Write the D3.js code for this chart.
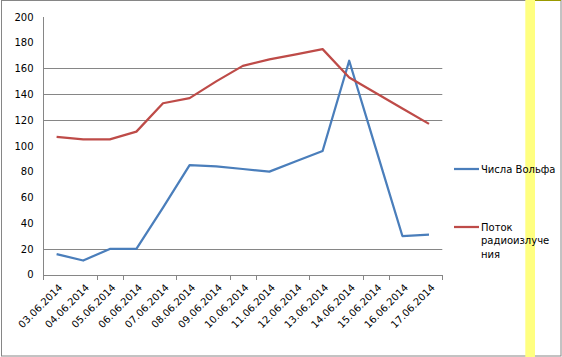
<!DOCTYPE html>
<html><head><meta charset="utf-8">
<script src="https://cdn.jsdelivr.net/npm/d3@7"></script>
<style>html,body{margin:0;padding:0;background:#fff;}svg{display:block;}</style>
</head><body>
<svg id="c" width="562" height="357"></svg>
<script>
const categories = ["03.06.2014","04.06.2014","05.06.2014","06.06.2014","07.06.2014","08.06.2014","09.06.2014","10.06.2014","11.06.2014","12.06.2014","13.06.2014","14.06.2014","15.06.2014","16.06.2014","17.06.2014"];
const wolfNumbers = [16, 11, 20, 20, 52, 85, 84, 82, 80, 88, 96, 166, 98, 30, 31];
const radioFlux = [107, 105, 105, 111, 133, 137, 150, 162, 167, 171, 175, 153, 141, 129, 117];
const seriesNames = ["Числа Вольфа", "Поток радиоизлучения"];
const seriesColors = ["#4a7ebb", "#be4b48"];
const yTicks = [0, 20, 40, 60, 80, 100, 120, 140, 160, 180, 200];
const gridValues = [20, 120, 140, 160];
const xTickIdx = [0, 2, 3, 5, 7, 8, 10, 12, 13, 15];

(function () {
const svg = d3.select("#c");
const font = "DejaVu Sans, Verdana, sans-serif";
const axisColor = "#868686";

const pLeft = 43.3, pRight = 442.3, pTop = 16.9, pBottom = 274.7;
const x = d3.scaleBand().domain(categories).range([pLeft, pRight]).paddingInner(0).paddingOuter(0);
const y = d3.scaleLinear().domain([0, 200]).range([pBottom, pTop]);

svg.append("rect").attr("x", 1.5).attr("y", 0.5).attr("width", 559.5).attr("height", 355.5)
  .attr("fill", "#fff").attr("stroke", axisColor).attr("stroke-width", 1);

// yellow highlight bar (behind text)
svg.append("rect").attr("x", 525.3).attr("y", 0).attr("width", 9.7).attr("height", 357).attr("fill", "#ffff80");
svg.append("line").attr("x1", 535).attr("x2", 561).attr("y1", 0.5).attr("y2", 0.5).attr("stroke", "#999900");

svg.append("g").selectAll("line").data(gridValues).join("line")
  .attr("x1", pLeft).attr("x2", pRight)
  .attr("y1", d => Math.round(y(d)) + 0.5).attr("y2", d => Math.round(y(d)) + 0.5)
  .attr("stroke", axisColor).attr("stroke-width", 1);

const yAxis = d3.axisLeft(y).tickValues(yTicks).tickSize(0).tickPadding(10);
const gy = svg.append("g").attr("transform", `translate(${Math.round(pLeft)+0.5},0)`).call(yAxis);
gy.select(".domain").attr("stroke", axisColor).attr("d", `M0,${Math.round(pTop)}V${Math.round(pBottom)+0.5}`);
gy.selectAll("text").attr("font-family", font).attr("font-size", 10).attr("fill", "#000");

const bandW = x.step();
svg.append("line").attr("x1", pLeft).attr("x2", pRight + 0.5)
  .attr("y1", Math.round(pBottom) + 0.5).attr("y2", Math.round(pBottom) + 0.5)
  .attr("stroke", axisColor);
svg.append("g").selectAll("line").data(xTickIdx).join("line")
  .attr("x1", i => Math.round(pLeft + i * bandW) + 0.5).attr("x2", i => Math.round(pLeft + i * bandW) + 0.5)
  .attr("y1", Math.round(pBottom)).attr("y2", Math.round(pBottom) + 5)
  .attr("stroke", axisColor);
svg.append("g").selectAll("text").data(categories).join("text")
  .attr("transform", d => `translate(${x(d) + bandW / 2 + 4},${pBottom + 11}) rotate(-45)`)
  .attr("text-anchor", "end").attr("dy", "0.35em")
  .attr("font-family", font).attr("font-size", 10).attr("fill", "#000")
  .text(d => d);

const line = d3.line().x((d, i) => x(categories[i]) + bandW / 2).y(d => y(d));
[wolfNumbers, radioFlux].forEach((s, k) => {
  svg.append("path").datum(s).attr("d", line).attr("fill", "none")
    .attr("stroke", seriesColors[k]).attr("stroke-width", 2.25).attr("stroke-linejoin", "round");
});

const lg = svg.append("g");
const legendY = [169, 227];
seriesNames.forEach((n, k) => {
  lg.append("line").attr("x1", 454).attr("x2", 479).attr("y1", legendY[k]).attr("y2", legendY[k])
    .attr("stroke", seriesColors[k]).attr("stroke-width", 2.25);
});
lg.append("text").attr("x", 481).attr("y", legendY[0]).attr("dy", "0.35em")
  .attr("font-family", font).attr("font-size", 10).text(seriesNames[0]);
const t2 = lg.append("text").attr("font-family", font).attr("font-size", 10);
["Поток", "радиоизлуче", "ния"].forEach((s, i) => {
  t2.append("tspan").attr("x", 481).attr("y", legendY[1] + i * 13.5).attr("dy", "0.35em").text(s);
});
})();
</script>
</body></html>
